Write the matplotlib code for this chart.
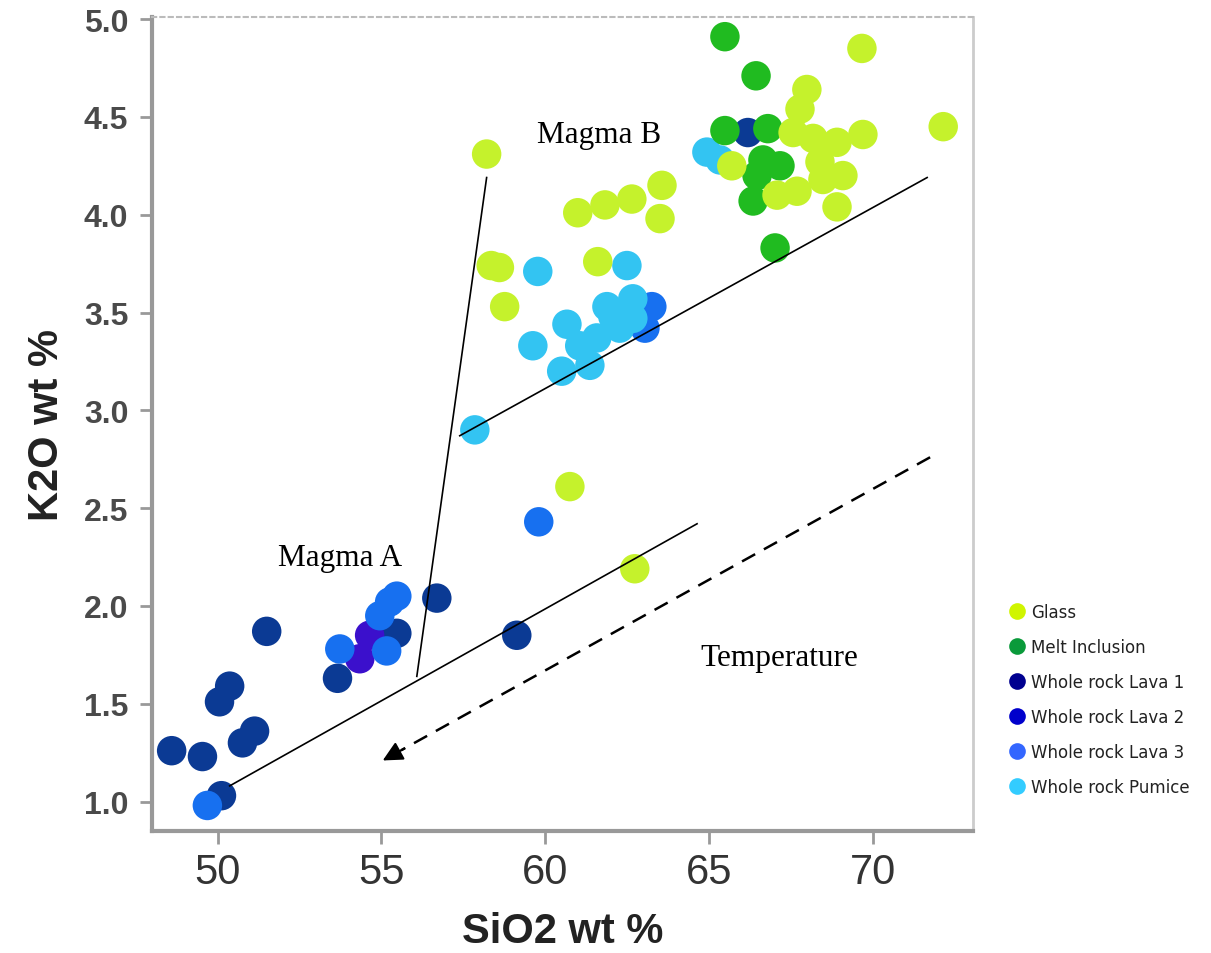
import matplotlib
matplotlib.use("Agg")
import matplotlib.pyplot as plt
from matplotlib.lines import Line2D

# SiO2 / K2O wt %
glass_x = [58.21, 60.99, 61.82, 62.64, 63.56, 63.50, 58.35, 58.60, 58.76, 61.60, 60.75, 62.73,
           69.66, 72.14, 67.98, 67.77, 67.56, 68.17, 68.90, 69.69, 65.69, 67.07, 67.68, 68.47,
           69.08, 68.90, 68.38]
glass_y = [4.31, 4.01, 4.05, 4.08, 4.15, 3.98, 3.74, 3.73, 3.53, 3.76, 2.61, 2.19,
           4.85, 4.45, 4.64, 4.54, 4.42, 4.39, 4.37, 4.41, 4.25, 4.10, 4.12, 4.18,
           4.20, 4.04, 4.27]

melt_x = [65.48, 66.43, 65.48, 66.79, 66.64, 67.16, 66.34, 67.01, 66.46]
melt_y = [4.91, 4.71, 4.43, 4.44, 4.28, 4.25, 4.07, 3.83, 4.20]

lava1_x = [51.50, 50.37, 50.06, 51.13, 50.76, 48.60, 49.54, 50.12, 53.66, 55.47, 56.69, 59.13, 66.18]
lava1_y = [1.87, 1.59, 1.51, 1.36, 1.30, 1.26, 1.23, 1.03, 1.63, 1.86, 2.04, 1.85, 4.42]

lava2_x = [54.64, 54.34]
lava2_y = [1.85, 1.73]

lava3_x = [49.69, 53.73, 55.16, 55.25, 55.47, 54.95, 63.25, 63.04, 59.80]
lava3_y = [0.98, 1.78, 1.77, 2.02, 2.05, 1.95, 3.53, 3.42, 2.43]

pumice_x = [59.77, 62.49, 59.62, 60.66, 60.50, 61.36, 61.88, 62.67, 62.27, 61.57, 61.05,
            62.67, 62.06, 57.85, 64.93, 65.33]
pumice_y = [3.71, 3.74, 3.33, 3.44, 3.20, 3.23, 3.53, 3.57, 3.42, 3.37, 3.33,
            3.47, 3.48, 2.90, 4.32, 4.28]

series = [
    ("Whole rock Lava 1", lava1_x, lava1_y, "#0b3a94", "#000090"),
    ("Whole rock Lava 2", lava2_x, lava2_y, "#3b10cc", "#0000cc"),
    ("Whole rock Lava 3", lava3_x, lava3_y, "#1770f0", "#3366ff"),
    ("Whole rock Pumice", pumice_x, pumice_y, "#33c4f2", "#33ccff"),
    ("Melt Inclusion", melt_x, melt_y, "#20bb20", "#0a9a3a"),
    ("Glass", glass_x, glass_y, "#c5f22c", "#d0f500"),
]
legend_order = ["Glass", "Melt Inclusion", "Whole rock Lava 1", "Whole rock Lava 2",
                "Whole rock Lava 3", "Whole rock Pumice"]

fig = plt.figure(figsize=(12.11, 9.54), dpi=100)
ax = fig.add_axes([0.1255, 0.128, 0.678, 0.853])

for name, xs, ys, col, _ in series:
    ax.scatter(xs, ys, s=450, color=col, edgecolors="none", zorder=3)

# interpretation lines
ax.plot([58.21, 56.08], [4.19, 1.64], color="black", lw=1.2, zorder=4)
ax.plot([57.39, 71.65], [2.87, 4.19], color="black", lw=1.2, zorder=4)
ax.plot([50.37, 64.63], [1.08, 2.42], color="black", lw=1.2, zorder=4)

# temperature arrow: dashed shaft + solid head
ax.plot([71.74, 55.6], [2.76, 1.262], color="black", lw=1.8, linestyle=(0, (6, 4)), zorder=4)
ax.annotate("", xy=(55.04, 1.21), xytext=(55.7, 1.271),
            arrowprops=dict(arrowstyle="-|>", color="black", lw=1.5,
                            mutation_scale=30, shrinkA=0, shrinkB=0), zorder=4)

serif = ["Liberation Serif", "DejaVu Serif"]
ax.text(59.74, 4.372, "Magma B", family=serif, fontsize=22.5, ha="left", va="baseline")
ax.text(51.83, 2.21, "Magma A", family=serif, fontsize=22.5, ha="left", va="baseline")
ax.text(64.72, 1.70, "Temperature", family=serif, fontsize=22.5, ha="left", va="baseline")

ax.set_xlim(48.0, 73.05)
ax.set_ylim(0.85, 5.01)
ax.set_xticks([50, 55, 60, 65, 70])
ax.set_yticks([1.0, 1.5, 2.0, 2.5, 3.0, 3.5, 4.0, 4.5, 5.0])
ax.set_yticklabels(["1.0", "1.5", "2.0", "2.5", "3.0", "3.5", "4.0", "4.5", "5.0"])

narrow = ["Liberation Sans Narrow", "Liberation Sans"]
for lab in ax.get_xticklabels():
    lab.set_family(narrow)
    lab.set_fontsize(30)
    lab.set_color("#333333")
for lab in ax.get_yticklabels():
    lab.set_family(["Liberation Sans"])
    lab.set_fontsize(23)
    lab.set_fontweight("bold")
    lab.set_color("#4a4a4a")

ax.tick_params(axis="both", direction="out", length=9, width=2, color="#999999")
ax.tick_params(axis="x", pad=6)
ax.tick_params(axis="y", pad=8)

ax.set_xlabel("SiO2 wt %", family=narrow, fontsize=30, fontweight="bold", color="#222222", labelpad=14)
ax.set_ylabel("K2O wt %", family=narrow, fontsize=30, fontweight="bold", color="#222222", labelpad=12)

ax.spines["left"].set_color("#999999")
ax.spines["left"].set_linewidth(3)
ax.spines["bottom"].set_color("#999999")
ax.spines["bottom"].set_linewidth(3)
ax.spines["top"].set_color("#bbbbbb")
ax.spines["top"].set_linestyle((0, (2, 2)))
ax.spines["top"].set_linewidth(1.5)
ax.spines["right"].set_color("#cccccc")
ax.spines["right"].set_linewidth(2)

colors = {name: lc for name, _, _, _, lc in series}
handles = [Line2D([], [], marker="o", linestyle="none", markersize=12,
                  markerfacecolor=colors[n], markeredgecolor="none") for n in legend_order]
leg = fig.legend(handles, legend_order, loc="upper left", bbox_to_anchor=(0.826, 0.374),
                 frameon=False, fontsize=12, labelspacing=1.02, handletextpad=0.25,
                 handlelength=1.2, borderaxespad=0)
for t in leg.get_texts():
    t.set_color("#222222")

fig.savefig("out.png", dpi=100)
